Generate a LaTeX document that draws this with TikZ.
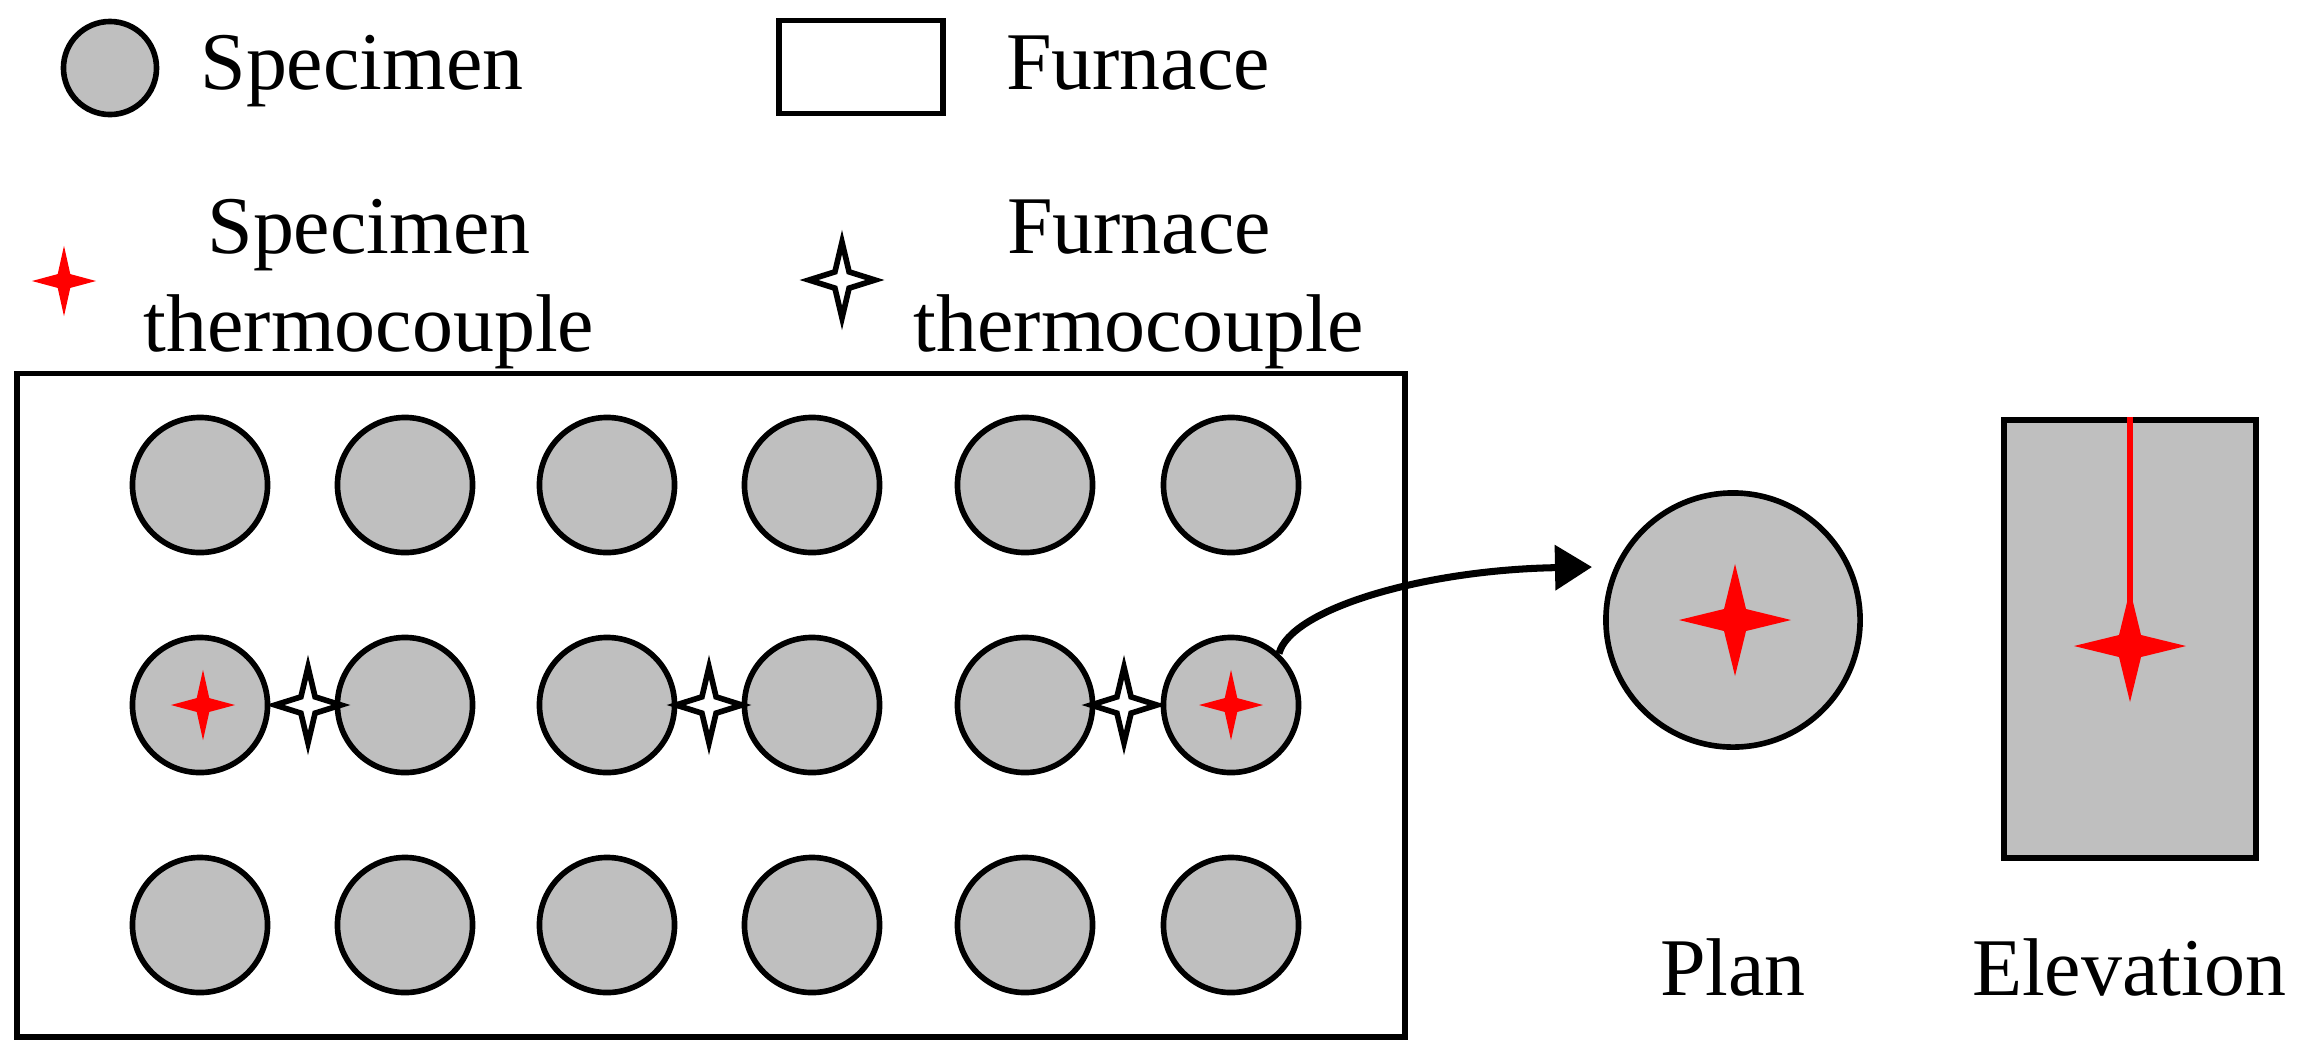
\documentclass[tikz,border=0pt]{standalone}
\usepackage{fontspec}
\setmainfont{Liberation Serif}
\usetikzlibrary{arrows.meta, shapes.geometric}
\definecolor{SpecimenGray}{RGB}{191,191,191}
\tikzset{
  >=latex,
  % Provini e forno
  specimen/.style={circle,draw=black,line width=1.6pt,fill=SpecimenGray,minimum size=1.35cm,inner sep=0},
  specimen big/.style={specimen,minimum size=2.54cm},
  furnace/.style={draw=black,line width=1.6pt,fill=white,inner sep=0},
  elevation/.style={draw=black,line width=1.6pt,fill=SpecimenGray,inner sep=0},
  % Termocoppie
  tc/.style={star,star points=4,star point ratio=3.6,inner sep=0,outer sep=0,transform shape},
  tc red/.style={tc,fill=red,minimum size=0.64cm,yscale=1.1},
  tc red big/.style={tc,fill=red,minimum size=1.12cm},
  tc black/.style={tc,draw=black,line width=1.6pt,fill=white,star point ratio=3.3,minimum size=0.66cm,yscale=1.15},
  label/.style={font=\fontsize{23.3}{27.8}\selectfont,inner sep=0,align=center},
  connect arrow/.style={-{Triangle[length=0.37cm,width=0.44cm]},line width=2pt}
}
\begin{document}
\begin{tikzpicture}[x=0.01cm,y=-0.01cm]
  \useasboundingbox (0,0) rectangle (2304,1060);
  % legenda
  \node[specimen,minimum size=0.93cm] (legend specimen) at (110,68){};
  \node[label,anchor=base] (text specimen) at (362,89){Specimen};
  \node[furnace,minimum width=1.64cm,minimum height=0.93cm] (legend furnace) at (861,67){};
  \node[label,anchor=base] (text furnace) at (1138,89){Furnace};
  \node[tc red] (legend tc red) at (64,281){};
  \node[label] (text tc red) at (369,284){Specimen\\thermocouple};
  \node[tc black] (legend tc black) at (842,280){};
  \node[label] (text tc black) at (1139,284){Furnace\\thermocouple};
  % forno
  \node[furnace,minimum width=13.87cm,minimum height=6.63cm] (box) at (711,705){};
  \foreach \row/\y in {1/485,2/705,3/925}
    \foreach \col/\x in {1/200,2/405,3/607,4/812,5/1025,6/1231}
      \node[specimen] (s\row\col) at (\x,\y){};
  % termocoppie nel forno
  \node[tc red] (tc in left) at (203,705){};
  \node[tc red] (tc in right) at (1231,705){};
  \node[tc black] (tc left) at (308,705){};
  \node[tc black] (tc mid) at (709,705){};
  \node[tc black] (tc right) at (1124,705){};
  % pianta
  \node[specimen big] (plan) at (1733,620){};
  \node[tc red big] (tc plan) at (1735,620){};
  \node[label,anchor=base] (text plan) at (1733,995){Plan};
  % prospetto
  \node[elevation,minimum width=2.52cm,minimum height=4.38cm] (elev) at (2130,639){};
  \node[tc red big] (tc elev) at (2130,646){};
  \draw[red,line width=1.6pt] (elev.north) -- (tc elev.center);
  \node[label,anchor=base] (text elev) at (2129,995){Elevation};
  % freccia
  \coordinate (tip) at (1592,567);
  \draw[connect arrow] (s26.47) .. controls (1290,610) and (1420,570) .. (tip);
\end{tikzpicture}
\end{document}
